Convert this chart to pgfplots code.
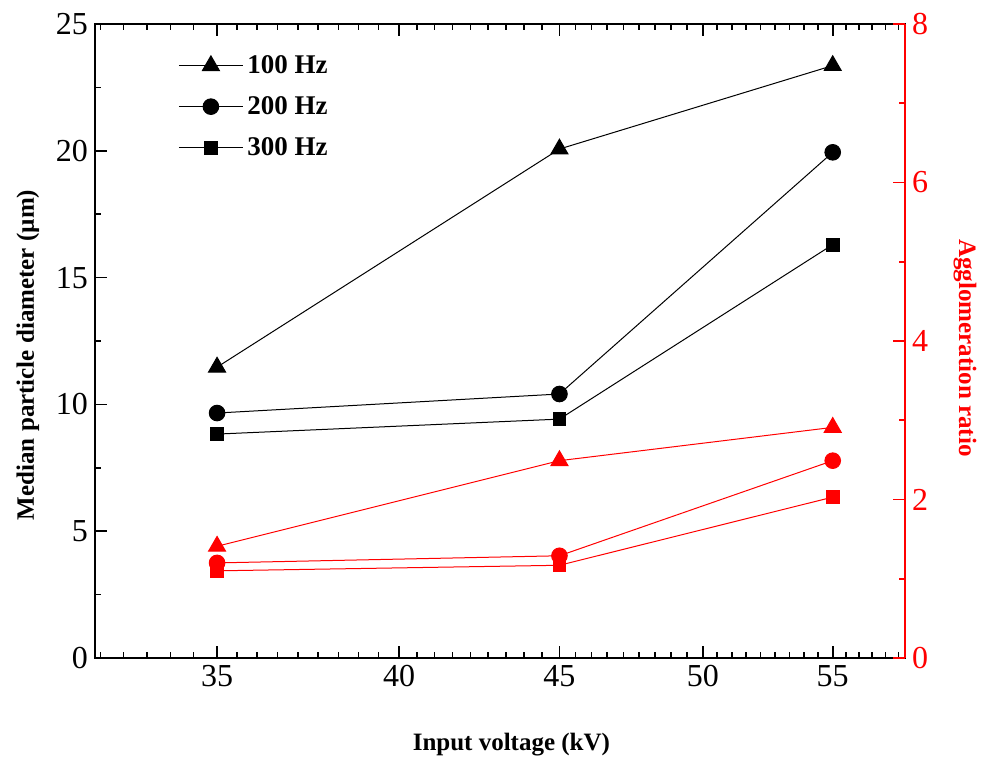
\documentclass[border=0pt]{standalone}
\usepackage{fontspec}
\setmainfont{Liberation Serif}
\usepackage{pgfplots}
\pgfplotsset{compat=1.18}

\begin{document}
\begin{tikzpicture}
\useasboundingbox (0,0) rectangle (492pt,381pt);

% left axis: median particle diameter
\begin{axis}[
  at={(47.5pt,52pt)}, anchor=south west,
  scale only axis, width=405pt, height=317pt,
  xmode=log, xmin=32, xmax=58,
  tick align=inside,
  major tick length=6pt, minor tick length=3pt,
  /pgf/number format/assume math mode=true,
  ticklabel style={font=\fontsize{16}{16}\selectfont},
  xtick={35,40,45,50,55}, xticklabels={35,40,45,50,55},
  % minor ticks, evenly spaced on the logarithmic voltage axis
  minor xtick={32.13,32.68,33.25,33.82,34.40,35.52,36.05,36.59,37.14,37.70,38.26,38.83,39.41,40.53,41.06,41.60,42.15,42.71,43.27,43.84,44.42,45.53,46.07,46.61,47.16,47.71,48.27,48.84,49.42,50.53,51.07,51.61,52.16,52.72,53.28,53.84,54.42,55.53,56.07,56.62,57.17,57.72},
  ymin=0, ymax=25, ytick={0,5,10,15,20,25},
  minor ytick={2.5,7.5,12.5,17.5,22.5},
  ytick pos=left,
  every tick/.style={black, line width=0.8pt},
  axis line style={black, line width=1.1pt},
  xlabel={Input voltage (kV)},
  xlabel style={font=\fontsize{12.5}{15}\selectfont\bfseries,
    at={(axis description cs:0.514,-0.137)}, anchor=center},
  ylabel={Median particle diameter (µm)},
  ylabel style={font=\fontsize{12.5}{15}\selectfont\bfseries,
    at={(axis description cs:-0.083,0.478)}, anchor=center},
  legend style={draw=none, fill=none,
    at={(axis description cs:0.095,0.964)}, anchor=north west,
    font=\fontsize{13.5}{16}\selectfont\bfseries, row sep=6pt},
  legend cell align=left,
  legend image code/.code={
    \draw[mark repeat=2,mark phase=2] plot coordinates {(0pt,0pt) (16pt,0pt) (32pt,0pt)};
  },
]
\addplot[black, line width=0.5pt, mark=triangle*, mark size=4.9pt]
  coordinates {(35,11.47) (45,20.07) (55,23.36)};
\addlegendentry{100 Hz}
\addplot[black, line width=0.5pt, mark=*, mark size=3.9pt]
  coordinates {(35,9.66) (45,10.41) (55,19.94)};
\addlegendentry{200 Hz}
\addplot[black, line width=0.5pt, mark=square*, mark size=3.2pt]
  coordinates {(35,8.83) (45,9.42) (55,16.30)};
\addlegendentry{300 Hz}
\end{axis}

% right axis: agglomeration ratio
\begin{axis}[
  at={(47.5pt,52pt)}, anchor=south west,
  scale only axis, width=405pt, height=317pt,
  xmode=log, xmin=32, xmax=58,
  tick align=inside,
  major tick length=6pt, minor tick length=3pt,
  /pgf/number format/assume math mode=true,
  ticklabel style={font=\fontsize{16}{16}\selectfont},
  axis x line=none, axis y line*=right,
  ymin=0, ymax=8, ytick={0,2,4,6,8}, minor ytick={1,3,5,7},
  every tick/.style={red, line width=0.8pt},
  y axis line style={red, line width=1.1pt},
  yticklabel style={red},
  ylabel={Agglomeration ratio},
  ylabel style={red, font=\fontsize{12.5}{15}\selectfont\bfseries,
    at={(axis description cs:1.074,0.489)}, anchor=center, rotate=180},
]
\addplot[red, line width=0.5pt, mark=triangle*, mark size=4.9pt]
  coordinates {(35,1.41) (45,2.49) (55,2.91)};
\addplot[red, line width=0.5pt, mark=*, mark size=3.9pt]
  coordinates {(35,1.20) (45,1.29) (55,2.49)};
\addplot[red, line width=0.5pt, mark=square*, mark size=3.2pt]
  coordinates {(35,1.10) (45,1.17) (55,2.03)};
\end{axis}
\end{tikzpicture}
\end{document}
